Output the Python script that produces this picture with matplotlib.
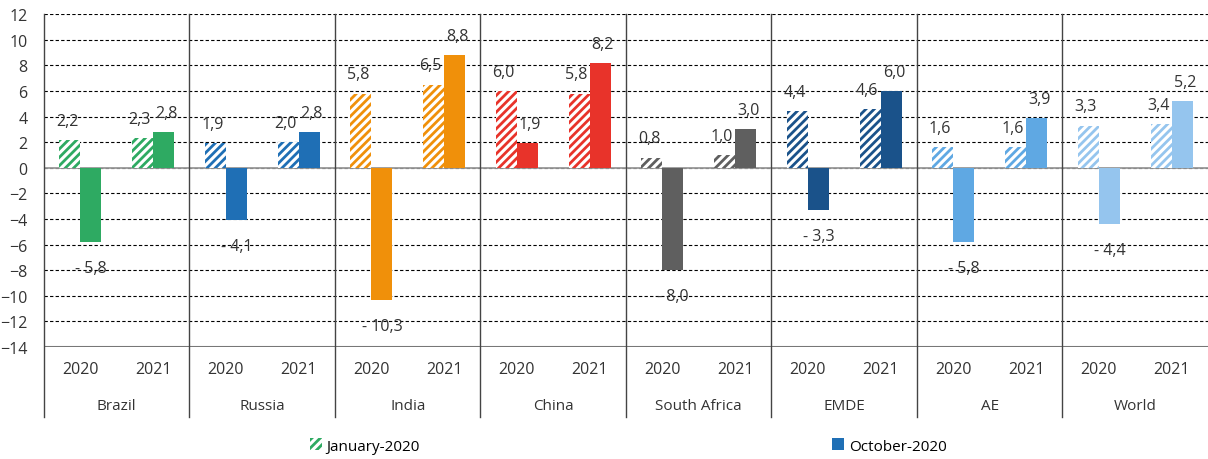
import matplotlib
matplotlib.use("Agg")
import matplotlib.pyplot as plt
from matplotlib.patches import Patch
from matplotlib.transforms import blended_transform_factory
import numpy as np

plt.rcParams['font.family'] = ['Open Sans', 'DejaVu Sans']
plt.rcParams['hatch.linewidth'] = 2.0

groups = ['Brazil', 'Russia', 'India', 'China', 'South Africa', 'EMDE', 'AE', 'World']
years = ['2020', '2021']
colors = ['#2eaa62', '#1f6fb5', '#f0900a', '#e8332a', '#5f5f5f', '#1a528a', '#5fa8e3', '#95c5ee']

# forecasts per group: (2020, 2021)
jan_2020 = [2.2, 2.3, 1.9, 2.0, 5.8, 6.5, 6.0, 5.8, 0.8, 1.0, 4.4, 4.6, 1.6, 1.6, 3.3, 3.4]
oct_2020 = [-5.8, 2.8, -4.1, 2.8, -10.3, 8.8, 1.9, 8.2, -8.0, 3.0, -3.3, 6.0, -5.8, 3.9, -4.4, 5.2]

def fmt(v):
    s = f"{abs(v):.1f}".replace('.', ',')
    return "- " + s if v < 0 else s

fig = plt.figure(figsize=(12.08, 4.6), dpi=100)
ax = fig.add_axes([0.0364, 0.2435, 0.9636, 0.7235])

n = len(jan_2020)
x = np.arange(n)
w = 0.29
txt = '#333333'

for i in range(n):
    c = colors[i // 2]
    ax.bar(x[i] - w / 2, jan_2020[i], w, facecolor='white', edgecolor=c,
           hatch='////', linewidth=0, zorder=3)
    ax.bar(x[i] + w / 2, oct_2020[i], w, color=c, linewidth=0, zorder=3)
    for xp, v, dx in ((x[i] - w / 2, jan_2020[i], -2), (x[i] + w / 2, oct_2020[i], 2)):
        if v >= 0:
            ax.annotate(fmt(v), (xp, v), xytext=(dx, 8), textcoords='offset points',
                        ha='center', va='bottom', fontsize=11.5, color=txt)
        else:
            ax.annotate(fmt(v), (xp, v), xytext=(0, -13), textcoords='offset points',
                        ha='center', va='top', fontsize=11.5, color=txt)

ax.set_xlim(-0.5, n - 0.5)
ax.set_ylim(-14, 12)
ax.set_yticks(np.arange(-14, 13, 2))
ax.yaxis.grid(True, color='black', linestyle=(0, (3, 2)), linewidth=0.8, zorder=0)
ax.axhline(0, color='#999999', linewidth=1.3, zorder=2)
ax.axhline(-14, color='#777777', linewidth=1.5, zorder=2)
for s in ax.spines.values():
    s.set_visible(False)
ax.tick_params(axis='y', length=0, labelsize=11.5, labelcolor=txt, pad=12)
ax.tick_params(axis='x', length=0)
ax.set_xticks([])

# two-level category axis below the plot
tr = blended_transform_factory(ax.transData, fig.transFigure)
for i in range(n):
    ax.text(x[i], 1 - 370 / 460, years[i % 2], transform=tr, ha='center', va='center',
            fontsize=11.5, color=txt)
for g, name in enumerate(groups):
    ax.text(2 * g + 0.5, 1 - 407 / 460, name, transform=tr, ha='center', va='center',
            fontsize=11, color=txt)
for b in np.arange(-0.5, n - 0.5, 2):
    ax.plot([b, b], [1 - 15 / 460, 1 - 418 / 460], transform=tr, color='#444444',
            linewidth=1.0, clip_on=False, zorder=4)

handles = [Patch(facecolor='white', edgecolor=colors[0], hatch='////', linewidth=0),
           Patch(facecolor=colors[1], linewidth=0)]
fig.legend(handles, ['January-2020', 'October-2020'], loc='center', ncol=2,
           bbox_to_anchor=(0.52, 1 - 447 / 460), frameon=False, fontsize=11,
           handlelength=0.8, handleheight=0.8, handletextpad=0.3, columnspacing=27)

fig.savefig('out.png', dpi=100)
